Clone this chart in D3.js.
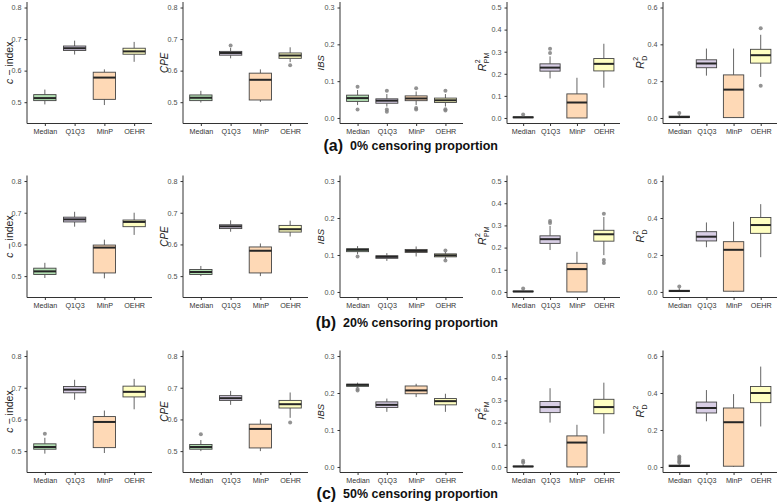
<!DOCTYPE html>
<html><head><meta charset="utf-8">
<script src="https://cdn.jsdelivr.net/npm/d3@7"></script>
<style>body{margin:0;background:#fff;} svg{display:block;font-family:'Liberation Sans',Arial,sans-serif;} text{white-space:pre;}</style>
</head><body>
<svg id="chart" width="778" height="503"></svg>
<script>
// ---------- DATA ----------
const categories = ["Median", "Q1Q3", "MinP", "OEHR"];
const rowLabels = ["(a)", "(b)", "(c)"];
const rowCaptions = ["0% censoring proportion", "20% censoring proportion", "50% censoring proportion"];
const metrics = ["cindex", "CPE", "IBS", "R2PM", "R2D"];
const metricTicks = {
  cindex: [0.5, 0.6, 0.7, 0.8],
  CPE: [0.5, 0.6, 0.7, 0.8],
  IBS: [0.0, 0.1, 0.2, 0.3],
  R2PM: [0.0, 0.1, 0.2, 0.3, 0.4, 0.5],
  R2D: [0.0, 0.2, 0.4, 0.6]
};
const metricLimits = {
  cindex: [0.45, 0.8], CPE: [0.45, 0.8], IBS: [0, 0.3], R2PM: [0, 0.5], R2D: [0, 0.6]
};
// each box: [lowerWhisker, q1, median, q3, upperWhisker, [outliers]]
const cindex_a = [[0.493,0.505,0.513,0.524,0.540,[]],[0.651,0.664,0.671,0.678,0.695,[]],[0.491,0.509,0.578,0.595,0.604,[]],[0.628,0.652,0.661,0.671,0.691,[]]];
const CPE_a    = [[0.499,0.505,0.514,0.523,0.536,[]],[0.639,0.649,0.656,0.661,0.672,[0.680]],[0.501,0.507,0.571,0.592,0.604,[]],[0.627,0.639,0.648,0.656,0.674,[0.617]]];
const IBS_a    = [[0.035,0.045,0.054,0.062,0.076,[0.085,0.023]],[0.031,0.040,0.047,0.052,0.065,[0.074,0.023,0.017]],[0.035,0.047,0.053,0.060,0.072,[0.081,0.027,0.023]],[0.031,0.042,0.048,0.054,0.065,[0.074,0.024,0.020]]];
const R2PM_a   = [[0.000,0.001,0.003,0.005,0.010,[0.016]],[0.179,0.212,0.228,0.245,0.279,[0.313,0.294]],[0.000,0.000,0.070,0.109,0.182,[]],[0.137,0.213,0.245,0.269,0.336,[]]];
const R2D_a    = [[0.000,0.002,0.005,0.010,0.018,[0.027]],[0.230,0.273,0.296,0.316,0.377,[]],[0.000,0.002,0.154,0.234,0.377,[]],[0.223,0.298,0.341,0.373,0.452,[0.488,0.175]]];

const cindex_b = [[0.494,0.505,0.515,0.525,0.542,[]],[0.656,0.671,0.679,0.686,0.703,[]],[0.493,0.510,0.590,0.598,0.615,[]],[0.630,0.656,0.671,0.677,0.700,[]]];
const CPE_b    = [[0.500,0.505,0.513,0.521,0.532,[]],[0.640,0.650,0.657,0.662,0.676,[]],[0.500,0.510,0.580,0.592,0.603,[]],[0.625,0.639,0.648,0.660,0.675,[]]];
const IBS_b    = [[0.102,0.109,0.114,0.117,0.124,[0.096]],[0.084,0.091,0.095,0.098,0.105,[]],[0.096,0.107,0.111,0.115,0.123,[]],[0.088,0.095,0.099,0.103,0.108,[0.112,0.085]]];
const R2PM_b   = [[0.000,0.001,0.002,0.004,0.010,[0.016]],[0.189,0.219,0.238,0.253,0.298,[0.320,0.311]],[0.000,0.000,0.103,0.129,0.181,[]],[0.166,0.229,0.260,0.278,0.338,[0.353,0.144,0.130]]];
const R2D_b    = [[0.000,0.002,0.005,0.009,0.020,[0.030]],[0.242,0.276,0.299,0.326,0.376,[]],[0.000,0.004,0.228,0.272,0.380,[]],[0.188,0.317,0.362,0.403,0.475,[]]];

const cindex_c = [[0.492,0.506,0.513,0.523,0.542,[0.555]],[0.662,0.684,0.694,0.704,0.725,[]],[0.494,0.511,0.592,0.609,0.628,[]],[0.632,0.671,0.687,0.705,0.728,[]]];
const CPE_c    = [[0.500,0.506,0.513,0.521,0.535,[0.553]],[0.646,0.660,0.667,0.675,0.690,[]],[0.500,0.510,0.570,0.585,0.600,[]],[0.605,0.636,0.648,0.660,0.685,[0.590]]];
const IBS_c    = [[0.214,0.218,0.222,0.224,0.228,[0.211,0.207]],[0.149,0.161,0.168,0.176,0.185,[]],[0.189,0.198,0.207,0.219,0.225,[]],[0.149,0.168,0.178,0.185,0.198,[]]];
const R2PM_c   = [[0.000,0.001,0.002,0.004,0.012,[0.020,0.028]],[0.200,0.245,0.270,0.295,0.355,[]],[0.000,0.000,0.110,0.140,0.190,[]],[0.150,0.240,0.270,0.305,0.380,[]]];
const R2D_c    = [[0.000,0.002,0.005,0.010,0.020,[0.057,0.048,0.039,0.030,0.023]],[0.247,0.292,0.319,0.351,0.416,[]],[0.000,0.004,0.242,0.319,0.394,[]],[0.219,0.348,0.400,0.435,0.543,[]]];

const dataRows = [
  [cindex_a, CPE_a, IBS_a, R2PM_a, R2D_a],
  [cindex_b, CPE_b, IBS_b, R2PM_b, R2D_b],
  [cindex_c, CPE_c, IBS_c, R2PM_c, R2D_c]
];

// ---------- STYLE / LAYOUT ----------
const fills = ["#b2dfb2", "#d8cee5", "#fed9b6", "#ffffc2"];
const cols = [
  {left: 27, right: 152, titleX: 9},
  {left: 183, right: 308, titleX: 164},
  {left: 340, right: 463, titleX: 321},
  {left: 507, right: 620, titleX: 482},
  {left: 663, right: 777, titleX: 640}
];
const rows = [
  {top: 2, bottom: 123.5, caption: 150},
  {top: 175.5, bottom: 297.5, caption: 327},
  {top: 350.5, bottom: 472.5, caption: 498}
];
const FONT = "'Liberation Sans',Arial,sans-serif";

const svg = d3.select("#chart");

function drawTitle(g, metric, x, y) {
  const t = g.append("g").attr("transform", `translate(${x},${y}) rotate(-90)`);
  if (metric === "cindex") {
    const tx = t.append("text").attr("text-anchor", "middle").attr("font-size", 10.5).attr("fill", "#222").attr("dy", "0.35em");
    tx.append("tspan").attr("font-style", "italic").text("c");
    tx.append("tspan").text(" \u2212 index");
  } else if (metric === "CPE" || metric === "IBS") {
    t.append("text").attr("text-anchor", "middle").attr("font-size", metric === "CPE" ? 10 : 9.5)
      .attr("font-style", "italic").attr("fill", "#222").attr("dy", "0.35em").text(metric);
  } else {
    const sub = metric === "R2PM" ? "PM" : "D";
    const subW = metric === "R2PM" ? 10 : 5;
    const total = 7 + subW;
    const x0 = -total / 2;
    t.append("text").attr("x", x0).attr("y", 4).attr("font-size", 10.5).attr("font-style", "italic").attr("fill", "#222").text("R");
    t.append("text").attr("x", x0 + 8).attr("y", -2).attr("font-size", 7).attr("fill", "#222").text("2");
    t.append("text").attr("x", x0 + 8).attr("y", 7).attr("font-size", 7).attr("fill", "#222").text(sub);
  }
}

rows.forEach((row, ri) => {
  metrics.forEach((metric, mi) => {
    const col = cols[mi];
    const data = dataRows[ri][mi];
    const [lo, hi] = metricLimits[metric];
    const pad = (hi - lo) * 0.05;
    const y = d3.scaleLinear().domain([lo - pad, hi + pad]).range([row.bottom, row.top]);
    const x = d3.scalePoint().domain(categories).range([col.left, col.right]).padding(0.6);
    const bw = x.step() * 0.75;
    const g = svg.append("g");

    // y axis
    const yAxis = d3.axisLeft(y).tickValues(metricTicks[metric]).tickSize(2.5).tickPadding(3)
      .tickFormat(d3.format(".1f"));
    const ya = g.append("g").attr("transform", `translate(${col.left},0)`).call(yAxis);
    ya.select(".domain").attr("stroke", "#333").attr("stroke-width", 1).attr("d", `M-0,${row.top}V${row.bottom}`);
    ya.selectAll(".tick line").attr("stroke", "#333");
    ya.selectAll(".tick text").attr("font-size", 7.2).attr("fill", "#4d4d4d").attr("font-family", FONT);

    // x axis
    const xAxis = d3.axisBottom(x).tickSize(2.5).tickPadding(2.5);
    const xa = g.append("g").attr("transform", `translate(0,${row.bottom})`).call(xAxis);
    xa.select(".domain").attr("stroke", "#333").attr("stroke-width", 1).attr("d", `M${col.left},0H${col.right}`);
    xa.selectAll(".tick line").attr("stroke", "#333");
    xa.selectAll(".tick text").attr("font-size", 7.2).attr("fill", "#333").attr("font-family", FONT);

    // boxes
    data.forEach((b, ci) => {
      const cx = x(categories[ci]);
      const [wl, q1, med, q3, wh, outs] = b;
      g.append("line").attr("x1", cx).attr("x2", cx).attr("y1", y(q3)).attr("y2", y(wh)).attr("stroke", "#555").attr("stroke-width", 0.9);
      g.append("line").attr("x1", cx).attr("x2", cx).attr("y1", y(q1)).attr("y2", y(wl)).attr("stroke", "#555").attr("stroke-width", 0.9);
      g.append("rect").attr("x", cx - bw / 2).attr("width", bw)
        .attr("y", y(q3)).attr("height", Math.max(0.5, y(q1) - y(q3)))
        .attr("fill", fills[ci]).attr("stroke", "#444").attr("stroke-width", 0.9);
      g.append("line").attr("x1", cx - bw / 2).attr("x2", cx + bw / 2).attr("y1", y(med)).attr("y2", y(med))
        .attr("stroke", "#262626").attr("stroke-width", 2);
      outs.forEach(o => {
        g.append("circle").attr("cx", cx).attr("cy", y(o)).attr("r", 2).attr("fill", "#808080").attr("fill-opacity", 0.85);
      });
    });

    drawTitle(g, metric, col.titleX, (row.top + row.bottom) / 2);
  });

  // caption
  const cap = svg.append("g");
  const main = cap.append("text").attr("x", 498).attr("y", row.caption).attr("text-anchor", "end")
    .attr("font-size", 12.5).attr("font-weight", "bold").attr("fill", "#111").text(rowCaptions[ri]);
  const len = main.node().getComputedTextLength();
  cap.append("text").attr("x", 498 - len - 7).attr("y", row.caption + 1).attr("text-anchor", "end")
    .attr("font-size", 16).attr("font-weight", "bold").attr("fill", "#111").text(rowLabels[ri]);
});
</script>
</body></html>
